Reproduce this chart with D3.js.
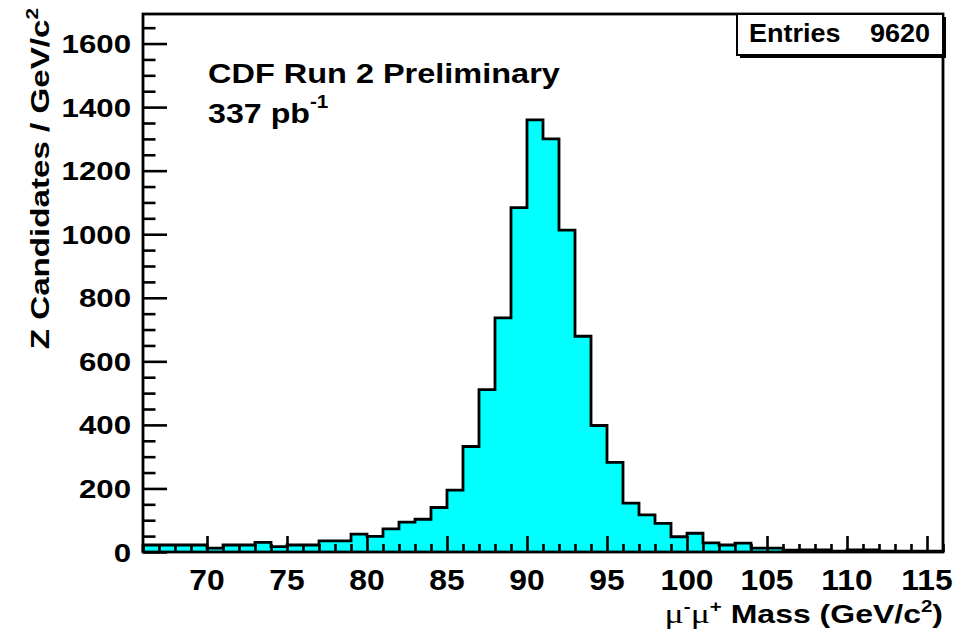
<!DOCTYPE html>
<html>
<head>
<meta charset="utf-8">
<script src="https://cdn.jsdelivr.net/npm/d3@7"></script>
<style>
  html, body { margin: 0; padding: 0; background: #ffffff; }
  svg { display: block; }
  text { font-family: "Liberation Sans", Arial, Helvetica, sans-serif; font-weight: bold; fill: #000; }
</style>
</head>
<body>
<svg id="chart" width="962" height="640"></svg>
<script>
// Di-muon invariant mass, 1 GeV/c^2 bins from 66 to 116 GeV/c^2
const binLowEdges = d3.range(66, 116, 1);
const binCounts = [
  22, 22, 22, 22, 12, 22, 22, 30, 17, 22,
  22, 35, 35, 56, 49, 73, 94, 103, 140, 195,
  332, 511, 737, 1084, 1360, 1300, 1013, 679, 398, 282,
  154, 117, 90, 48, 59, 29, 22, 28, 12, 12,
  6, 7, 7, 3, 7, 7, 3, 3, 3, 3
];
const xMajorTicks = [70, 75, 80, 85, 90, 95, 100, 105, 110, 115];
const yMajorTicks = [0, 200, 400, 600, 800, 1000, 1200, 1400, 1600];
const entries = 9620;

const svg = d3.select("#chart");
const padL = 143, padR = 943, padT = 14, padB = 552;

const x = d3.scaleLinear().domain([66, 116]).range([padL, padR]);
const y = d3.scaleLinear().domain([0, 1693]).range([padB, padT]);

// step contour: each bin contributes its low and high edge at its count
const steps = [[66, 0]];
binLowEdges.forEach((e, i) => {
  steps.push([e, binCounts[i]]);
  steps.push([e + 1, binCounts[i]]);
});
steps.push([116, 0]);

svg.append("path").datum(steps)
  .attr("d", d3.area().x(d => x(d[0])).y0(y(0)).y1(d => y(d[1])))
  .attr("fill", "#00ffff").attr("stroke", "none");
svg.append("path").datum(steps)
  .attr("d", d3.line().x(d => x(d[0])).y(d => y(d[1])))
  .attr("fill", "none").attr("stroke", "#000").attr("stroke-width", 2.8)
  .attr("stroke-linejoin", "miter");

// x axis ticks: minor every 1, major every 5
const gx = svg.append("g").attr("transform", `translate(0,${padB})`)
  .call(d3.axisBottom(x).tickValues(d3.range(66, 117, 1)).tickSize(0).tickFormat(""));
gx.select(".domain").remove();
gx.selectAll(".tick line")
  .attr("y2", d => xMajorTicks.includes(d) ? -16 : -8)
  .attr("stroke", "#000").attr("stroke-width", 2.6);

// y axis ticks: minor every 50, major every 200
const gy = svg.append("g").attr("transform", `translate(${padL},0)`)
  .call(d3.axisLeft(y).tickValues(d3.range(0, 1693, 50)).tickSize(0).tickFormat(""));
gy.select(".domain").remove();
gy.selectAll(".tick line")
  .attr("x2", d => yMajorTicks.includes(d) ? 24 : 12.5)
  .attr("stroke", "#000").attr("stroke-width", 2.6);

// frame
svg.append("rect")
  .attr("x", padL).attr("y", padT).attr("width", padR - padL).attr("height", padB - padT)
  .attr("fill", "none").attr("stroke", "#000").attr("stroke-width", 2.8);

// tick labels
svg.append("g").selectAll("text").data(xMajorTicks).join("text")
  .attr("transform", d => `translate(${x(d)},590) scale(1.06,1)`)
  .attr("text-anchor", "middle").style("font-size", "30px")
  .text(d => d);

svg.append("g").selectAll("text").data(yMajorTicks).join("text")
  .attr("transform", d => `translate(131,${y(d) + 9.5}) scale(1.2,1)`)
  .attr("text-anchor", "end").style("font-size", "26px")
  .text(d => d);

// y title
const yt = svg.append("text")
  .attr("transform", "translate(49,8) rotate(-90) scale(1.3,1)")
  .attr("text-anchor", "end").style("font-size", "25.5px");
yt.append("tspan").text("Z Candidates / GeV/c");
yt.append("tspan").attr("dy", -11).style("font-size", "16px").text("2");

// x title
const serif = "'Liberation Serif', 'DejaVu Serif', serif";
const xt = svg.append("text")
  .attr("transform", "translate(943,623) scale(1.28,1)")
  .attr("text-anchor", "end").style("font-size", "25px");
xt.append("tspan").style("font-family", serif).style("font-weight", "normal")
  .style("font-size", "28px").text("\u03bc");
xt.append("tspan").attr("dy", -11).style("font-size", "16px").text("-");
xt.append("tspan").attr("dy", 11).style("font-family", serif).style("font-weight", "normal")
  .style("font-size", "28px").text("\u03bc");
xt.append("tspan").attr("dy", -11).style("font-size", "16px").text("+");
xt.append("tspan").attr("dy", 11).text(" Mass (GeV/c");
xt.append("tspan").attr("dy", -11).style("font-size", "16px").text("2");
xt.append("tspan").attr("dy", 11).text(")");

// experiment label
svg.append("text")
  .attr("transform", "translate(208,83) scale(1.16,1)")
  .style("font-size", "28px").text("CDF Run 2 Preliminary");
const lum = svg.append("text")
  .attr("transform", "translate(208,123) scale(1.15,1)")
  .style("font-size", "28px");
lum.append("tspan").text("337 pb");
lum.append("tspan").attr("dy", -15).style("font-size", "18px").text("-1");

// statistics box with shadow
const bx = 737, by = 14, bw = 206, bh = 41;
svg.append("rect").attr("x", bx + 3).attr("y", by + 3).attr("width", bw).attr("height", bh)
  .attr("fill", "#000");
svg.append("rect").attr("x", bx).attr("y", by).attr("width", bw).attr("height", bh)
  .attr("fill", "#fff").attr("stroke", "#000").attr("stroke-width", 2);
svg.append("text").attr("transform", "translate(749,42) scale(1.08,1)")
  .style("font-size", "25px").text("Entries");
svg.append("text").attr("transform", "translate(930,42) scale(1.08,1)")
  .attr("text-anchor", "end").style("font-size", "25px").text(entries);
</script>
</body>
</html>
